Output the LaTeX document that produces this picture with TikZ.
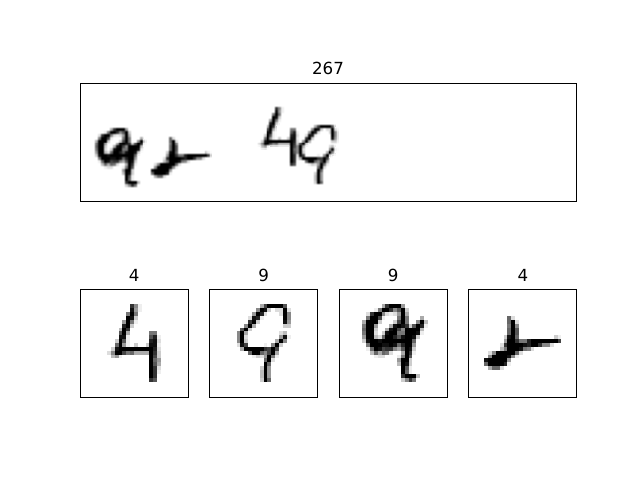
\documentclass[tikz,border=0pt]{standalone}
\usepackage{fontspec}
\setmainfont{DejaVu Sans}
\makeatletter
\newcount\rrw \newcount\rcl
\def\rid{}
\def\rd#1#2#3#4{\def\rid{#1}\rrw=#2\relax \rcl=#3\relax \rdloop#4\relax}
\def\rdloop#1{\ifx#1\relax\else
  \expandafter\xdef\csname g@\rid @\the\rrw @\the\rcl\endcsname{\number"#1 }%
  \advance\rcl by 1 \expandafter\rdloop\fi}
\def\cvv#1#2{\ifcsname cv@\number\numexpr#1\relax @\number\numexpr#2\relax\endcsname\csname cv@\number\numexpr#1\relax @\number\numexpr#2\relax\endcsname\else 0\fi}
\def\Wm#1{\ifcase#1 1\or 0\or 0\fi}
\def\Wc#1{\ifcase#1 3\or 4\or 3\fi}
\def\Wp#1{\ifcase#1 0\or 0\or 1\fi}
\def\grayfill#1{\pgfsys@color@gray@fill{\strip@pt\dimexpr#1\relax}}
% place a digit on the composite canvas
\newcommand\placedigit[3]{%
 \foreach \rw in {0,...,27}{\foreach \cl in {0,...,27}{%
   \ifcsname g@#1@\rw @\cl\endcsname
     \edef\nw{\csname g@#1@\rw @\cl\endcsname}%
     \edef\od{\number\numexpr\cvv{\cl+#2}{\rw+#3}\relax}%
     \ifnum\nw>\od\relax
       \expandafter\xdef\csname cv@\number\numexpr\cl+#2\relax @\number\numexpr\rw+#3\relax\endcsname{\nw}%
     \fi
   \fi}}}
% one 28x28 panel, pixels snapped to the device grid; #2 = left edge in tenths
\newcommand\paintpanel[2]{%
 \foreach \rw in {0,...,27}{\foreach \cl in {0,...,27}{%
   \ifcsname g@#1@\rw @\cl\endcsname
     \edef\nw{\csname g@#1@\rw @\cl\endcsname}%
     \edef\xa{\number\numexpr(#2*7+\cl*270)/70\relax}%
     \edef\xb{\number\numexpr(#2*7+(\cl+1)*270)/70\relax}%
     \edef\ya{\number\numexpr289+(\rw*270)/70\relax}%
     \edef\yb{\number\numexpr289+((\rw+1)*270)/70\relax}%
     \grayfill{\numexpr(15-\nw)*4369\relax sp}%
     \pgfpathrectangle{\pgfqpoint{\xa pt}{-\yb pt}}{\pgfqpoint{\numexpr\xb-\xa\relax pt}{\numexpr\yb-\ya\relax pt}}%
     \pgfusepath{fill}%
   \fi}}}
% composite canvas, hanning-interpolated on three sub-cells per canvas pixel
\newcommand\paintcanvas{%
 \foreach \yy in {0,...,39}{\foreach \xx in {0,...,167}{%
  \edef\pmm{\number\numexpr\cvv{\xx-1}{\yy-1}\relax}\edef\pzm{\number\numexpr\cvv{\xx}{\yy-1}\relax}\edef\ppm{\number\numexpr\cvv{\xx+1}{\yy-1}\relax}%
  \edef\pmz{\number\numexpr\cvv{\xx-1}{\yy}\relax}\edef\pzz{\number\numexpr\cvv{\xx}{\yy}\relax}\edef\ppz{\number\numexpr\cvv{\xx+1}{\yy}\relax}%
  \edef\pmp{\number\numexpr\cvv{\xx-1}{\yy+1}\relax}\edef\pzp{\number\numexpr\cvv{\xx}{\yy+1}\relax}\edef\ppp{\number\numexpr\cvv{\xx+1}{\yy+1}\relax}%
  \ifnum\numexpr\pmm+\pzm+\ppm+\pmz+\pzz+\ppz+\pmp+\pzp+\ppp\relax>0
   \foreach \aa in {0,1,2}{%
    \edef\hm{\number\numexpr\Wm\aa*\pmm+\Wc\aa*\pzm+\Wp\aa*\ppm\relax}%
    \edef\hz{\number\numexpr\Wm\aa*\pmz+\Wc\aa*\pzz+\Wp\aa*\ppz\relax}%
    \edef\hp{\number\numexpr\Wm\aa*\pmp+\Wc\aa*\pzp+\Wp\aa*\ppp\relax}%
    \foreach \bb in {0,1,2}{%
     \edef\vv{\number\numexpr\Wm\bb*\hm+\Wc\bb*\hz+\Wp\bb*\hp\relax}%
     \ifnum\vv>0
      \grayfill{\numexpr(240-\vv)*273\relax sp}%
      \pgfpathrectangle{\pgfqpoint{\dimexpr80.5pt+\numexpr3*\xx+\aa\relax\dimexpr0.98413pt\relax\relax}{\dimexpr-83.5pt-\numexpr3*\yy+\bb+1\relax\dimexpr0.98333pt\relax-0.25pt\relax}}{\pgfqpoint{1.23pt}{1.23pt}}%
      \pgfusepath{fill}%
     \fi}}%
  \fi}}}
\makeatother
% digit A: 4
\rd{A}{4}{13}{C71}\rd{A}{5}{13}{E61}\rd{A}{6}{12}{8F8}\rd{A}{7}{12}{FE3}\rd{A}{8}{11}{6F81}\rd{A}{9}{11}{DF3}
\rd{A}{10}{10}{4FC}\rd{A}{11}{10}{AF5}\rd{A}{11}{18}{88}\rd{A}{12}{10}{EE1}\rd{A}{12}{18}{AD1}
\rd{A}{13}{9}{3FA1}\rd{A}{13}{18}{DE2}\rd{A}{14}{9}{9F6103003EE1}\rd{A}{15}{8}{3EFFFFFFFFFD2}
\rd{A}{16}{7}{27FFB895555FC3}\rd{A}{17}{8}{461}\rd{A}{17}{18}{FB3}\rd{A}{18}{18}{F96}\rd{A}{19}{18}{FA5}
\rd{A}{20}{18}{FC2}\rd{A}{21}{18}{FC1}\rd{A}{22}{18}{FC}\rd{A}{23}{18}{CA}
% digit B: 9
\rd{B}{4}{13}{5BFFFFA}\rd{B}{5}{12}{7FE3}\rd{B}{5}{17}{22F2}\rd{B}{6}{11}{6FD2}\rd{B}{6}{18}{2F7}
\rd{B}{7}{10}{2ED1}\rd{B}{7}{19}{F7}\rd{B}{8}{10}{CF3}\rd{B}{8}{19}{E6}\rd{B}{9}{9}{7F5}\rd{B}{9}{19}{33}
\rd{B}{10}{8}{AF3}\rd{B}{11}{7}{7F5}\rd{B}{11}{18}{24}\rd{B}{12}{7}{7F2}\rd{B}{12}{18}{6E1}
\rd{B}{13}{7}{7F3}\rd{B}{13}{17}{5F7}\rd{B}{14}{7}{2EB}\rd{B}{14}{14}{1}\rd{B}{14}{16}{7F3}
\rd{B}{15}{8}{5FFFFFCBFB}\rd{B}{16}{10}{9FF97BF5}\rd{B}{17}{11}{1326F81}\rd{B}{18}{14}{9F2}\rd{B}{19}{14}{F9}
\rd{B}{20}{13}{3F6}\rd{B}{21}{13}{4F6}\rd{B}{22}{13}{4F6}\rd{B}{23}{13}{3F9}
% digit C: 9
\rd{C}{4}{11}{5CFFF6}\rd{C}{5}{9}{18FFC7AF3}\rd{C}{6}{7}{2CFF72126F5}\rd{C}{7}{7}{8FFB1}\rd{C}{7}{15}{8F8}\rd{C}{7}{21}{5}
\rd{C}{8}{6}{5FFF3}\rd{C}{8}{14}{3BF8}\rd{C}{8}{20}{7F4}\rd{C}{9}{6}{8FF6}\rd{C}{9}{13}{5EFEC3AFD1}
\rd{C}{10}{6}{9FF3}\rd{C}{10}{12}{5EFB7FFFF4}\rd{C}{11}{6}{8FF2}\rd{C}{11}{11}{3EFF88FFFE1}
\rd{C}{12}{6}{6FF429FFDAEFFE3}\rd{C}{13}{6}{3EFFEFFFFFFFF9}\rd{C}{14}{7}{8FFFEEFE9DFF6}\rd{C}{15}{7}{19FEBCC75AFE3}
\rd{C}{16}{8}{495982}\rd{C}{16}{16}{5FC1}\rd{C}{17}{9}{122}\rd{C}{17}{15}{18FA}\rd{C}{18}{15}{6FF3}\rd{C}{19}{15}{4FE3}
\rd{C}{20}{16}{FA1}\rd{C}{21}{16}{F91}\rd{C}{22}{16}{CFFF4}\rd{C}{23}{16}{37C8}
% digit D: 4
\rd{D}{7}{10}{92}\rd{D}{8}{10}{9F2}\rd{D}{9}{10}{8F7}\rd{D}{10}{10}{9FA}\rd{D}{11}{10}{9FA}\rd{D}{12}{9}{3EF9}\rd{D}{12}{22}{31}
\rd{D}{13}{9}{6FFC88DFFFFFFFB}\rd{D}{14}{8}{2CFFFFEDFFC772}\rd{D}{15}{8}{48FFFE872}\rd{D}{16}{5}{27FFFFF92}
\rd{D}{17}{5}{7FFFFE71}\rd{D}{18}{4}{EFFFFF6}\rd{D}{19}{4}{9FFFFD1}\rd{D}{20}{5}{5992}
\tikzset{
  frame/.style={draw=black,line width=1pt},
  ttl/.style={anchor=base,inner sep=0pt,font=\fontsize{16.67}{20}\selectfont}
}
\begin{document}
\begin{tikzpicture}[x=1pt,y=-1pt]
\useasboundingbox (0,0) rectangle (640,480);
\placedigit{C}{-1}{11}\placedigit{D}{20}{11}\placedigit{A}{53}{4}\placedigit{B}{66}{10}
\begin{scope}
\paintcanvas
\end{scope}
\begin{scope}\paintpanel{A}{800}\end{scope}
\begin{scope}\paintpanel{B}{2096}\end{scope}
\begin{scope}\paintpanel{C}{3392}\end{scope}
\begin{scope}\paintpanel{D}{4688}\end{scope}
\draw[frame] (80.5,83.5) rectangle (576.5,201.5);
\draw[frame] (80.5,289.5) rectangle (188.5,397.5);
\draw[frame] (209.5,289.5) rectangle (317.5,397.5);
\draw[frame] (339.5,289.5) rectangle (447.5,397.5);
\draw[frame] (468.5,289.5) rectangle (576.5,397.5);
\node[ttl] (ttop) at (328,74.7) {267};
\node[ttl] (t1) at (134.3,281.5) {4};
\node[ttl] (t2) at (263.6,281.5) {9};
\node[ttl] (t3) at (393.2,281.5) {9};
\node[ttl] (t4) at (522.8,281.5) {4};
\end{tikzpicture}
\end{document}
